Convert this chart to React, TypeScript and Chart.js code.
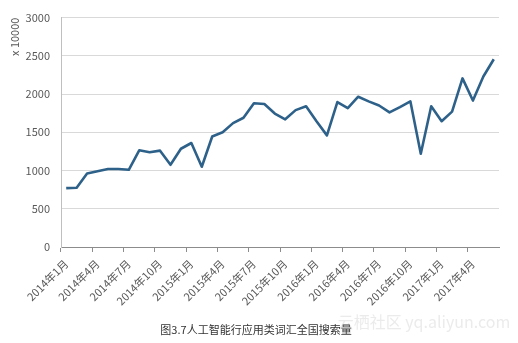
import React, { useEffect, useRef } from "react";
import { Chart, registerables } from "chart.js";

Chart.register(...registerables);

const years = [2014, 2015, 2016, 2017];
const categories: string[] = [];
for (const y of years) {
  for (let m = 1; m <= 12; m++) {
    if (y === 2017 && m > 6) break;
    categories.push(`${y}年${m}月`);
  }
}

const searchVolume = [
  770, 775, 960, 990, 1020, 1020, 1010, 1265, 1240, 1260, 1075, 1285,
  1360, 1050, 1445, 1500, 1620, 1690, 1880, 1870, 1745, 1670, 1790, 1840,
  1645, 1460, 1895, 1815, 1965, 1905, 1850, 1760, 1830, 1905, 1220, 1840,
  1645, 1770, 2205, 1915, 2230, 2455,
];

const yTitle = "x 10000";
const caption = "图3.7人工智能行应用类词汇全国搜索量";
const watermark = "云栖社区 yq.aliyun.com";

const FONT = "'Noto Sans CJK SC', 'Noto Sans', sans-serif";

const captionPlugin = {
  id: "captionPlugin",
  afterDraw(chart: any) {
    const ctx = chart.ctx;
    ctx.save();
    ctx.textAlign = "center";
    ctx.textBaseline = "middle";
    ctx.fillStyle = "rgba(205,205,205,0.4)";
    ctx.font = `16px ${FONT}`;
    ctx.fillText(watermark, 424, 322);
    ctx.fillStyle = "#333333";
    ctx.font = `11px ${FONT}`;
    ctx.fillText(caption, 256, 330);
    ctx.restore();
  },
};

export default function App() {
  const ref = useRef<HTMLCanvasElement | null>(null);
  useEffect(() => {
    if (!ref.current) return;
    const chart = new Chart(ref.current, {
      type: "line",
      data: {
        labels: categories,
        datasets: [
          {
            data: searchVolume,
            borderColor: "#2e6189",
            borderWidth: 2.6,
            pointRadius: 0,
            tension: 0,
            fill: false,
            borderJoinStyle: "round",
          },
        ],
      },
      options: {
        responsive: false,
        animation: false,
        layout: { padding: { left: 0, right: 19, top: 14, bottom: 0 } },
        plugins: {
          legend: { display: false },
          tooltip: { enabled: false },
        },
        scales: {
          x: {
            type: "category",
            offset: true,
            afterFit(scale: any) {
              scale.height = 96;
            },
            grid: {
              offset: true,
              drawOnChartArea: false,
              drawTicks: true,
              tickLength: 5,
              color: (c: any) => (c.index % 3 === 0 ? "#8c8c8c" : "transparent"),
            },
            border: { display: true, color: "#8c8c8c", width: 1 },
            ticks: {
              autoSkip: false,
              maxRotation: 45,
              minRotation: 45,
              padding: 5,
              color: "#595959",
              font: { family: FONT, size: 11 },
              callback: (v: any, i: number) => (i % 3 === 0 ? categories[i] : ""),
            },
          },
          y: {
            min: 0,
            max: 3000,
            afterFit(scale: any) {
              scale.width = 61;
            },
            grid: { color: "#d9d9d9", drawTicks: false, lineWidth: 1 },
            border: { display: true, color: "#bfbfbf" },
            ticks: {
              stepSize: 500,
              padding: 11,
              color: "#595959",
              font: { family: FONT, size: 11 },
              callback: (v: any) => String(v),
            },
            title: {
              display: true,
              text: yTitle,
              align: "end",
              color: "#595959",
              font: { family: FONT, size: 11 },
              padding: { top: 8, bottom: 0 },
            },
          },
        },
      },
      plugins: [captionPlugin],
    } as any);
    return () => chart.destroy();
  }, []);
  return (
    <div style={{ position: "absolute", left: 0, top: 0, width: 518, height: 343, background: "#fff" }}>
      <canvas ref={ref} width={518} height={343} />
    </div>
  );
}
